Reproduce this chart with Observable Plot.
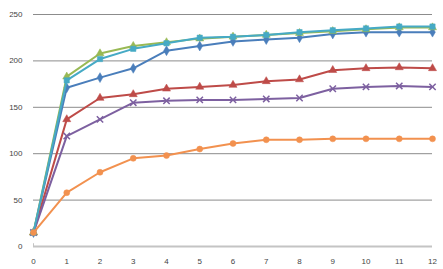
<!DOCTYPE html>
<html>
<head>
<meta charset="utf-8">
<script src="https://cdn.jsdelivr.net/npm/d3@7"></script>
<script src="https://cdn.jsdelivr.net/npm/@observablehq/plot@0.6"></script>
<style>
  html, body { margin: 0; padding: 0; background: #fff; }
  #chart { width: 443px; height: 269px; }
</style>
</head>
<body>
<div id="chart"></div>
<script>
const xValues = [0, 1, 2, 3, 4, 5, 6, 7, 8, 9, 10, 11, 12];
const yTicks = [0, 50, 100, 150, 200, 250];

const seriesBlue   = [15, 171, 182, 192, 211, 216, 221, 223, 225, 229, 231, 231, 231];
const seriesRed    = [15, 137, 160, 164, 170, 172, 174, 178, 180, 190, 192, 193, 192];
const seriesGreen  = [15, 183, 208, 216, 220, 224, 226, 228, 230, 232, 234, 236, 236];
const seriesPurple = [15, 119, 137, 155, 157, 158, 158, 159, 160, 170, 172, 173, 172];
const seriesCyan   = [15, 179, 202, 213, 219, 225, 226, 228, 231, 233, 235, 237, 237];
const seriesOrange = [15, 58, 80, 95, 98, 105, 111, 115, 115, 116, 116, 116, 116];

const seriesDefs = [
  {name: "A", values: seriesBlue,   color: "#4a7ebb", symbol: "diamond"},
  {name: "B", values: seriesRed,    color: "#be4b48", symbol: "triangle"},
  {name: "C", values: seriesGreen,  color: "#98b954", symbol: "triangle"},
  {name: "D", values: seriesPurple, color: "#7d60a0", symbol: "times"},
  {name: "E", values: seriesCyan,   color: "#46aac5", symbol: "square"},
  {name: "F", values: seriesOrange, color: "#f2914f", symbol: "circle"}
];

const rows = [];
for (const s of seriesDefs) {
  s.values.forEach((v, i) => rows.push({series: s.name, x: xValues[i], y: v, color: s.color, symbol: s.symbol}));
}

const marks = [
  Plot.ruleY(yTicks.filter(d => d > 0), {stroke: "#8c8c8c", strokeWidth: 1}),
  Plot.ruleY([0], {stroke: "#c4c4c4", strokeWidth: 2}),
  Plot.ruleX([0], {y1: 0, y2: 3, stroke: "#c4c4c4", strokeWidth: 1})
];
for (const s of seriesDefs) {
  const data = rows.filter(r => r.series === s.name);
  marks.push(Plot.line(data, {x: "x", y: "y", stroke: s.color, strokeWidth: 2}));
  if (s.symbol === "times") {
    marks.push(Plot.dot(data, {x: "x", y: "y", r: 3, symbol: "times", stroke: s.color, strokeWidth: 1.5}));
  } else {
    marks.push(Plot.dot(data, {x: "x", y: "y", r: 3, symbol: s.symbol, fill: s.color, stroke: s.color, strokeWidth: 0.5}));
  }
}

const chart = Plot.plot({
  width: 443,
  height: 269,
  marginLeft: 33,
  marginRight: 11,
  marginTop: 14,
  marginBottom: 23,
  style: {fontFamily: "Liberation Sans, Arial, sans-serif", fontSize: "8px", color: "#444", background: "#fff"},
  x: {domain: [0, 12], ticks: xValues, tickSize: 0, tickPadding: 12, label: null, tickFormat: d => String(d)},
  y: {domain: [0, 250], ticks: yTicks, tickSize: 0, tickPadding: 11, label: null},
  marks
});
document.getElementById("chart").appendChild(chart);
</script>
</body>
</html>
